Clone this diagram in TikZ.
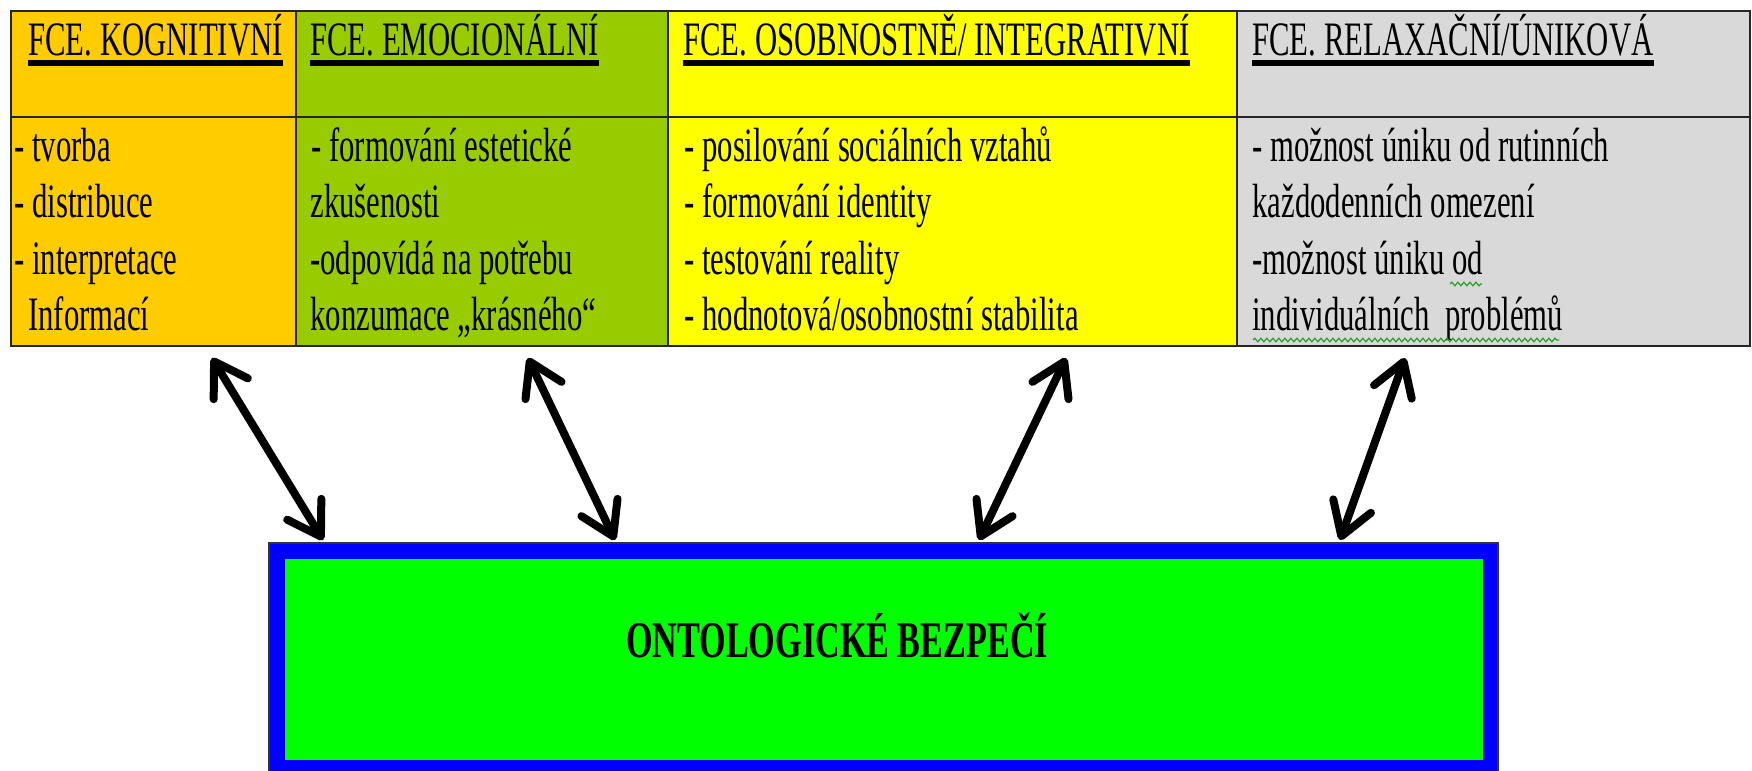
\documentclass[tikz,border=0pt]{standalone}
\usepackage{fontspec}
\setmainfont{Liberation Serif}[FakeStretch=0.64]
\newfontfamily\titlefont{Liberation Serif}[FakeStretch=0.665]
\usetikzlibrary{arrows.meta,decorations.pathmorphing}
\definecolor{cOrange}{HTML}{FFCC00}
\definecolor{cLime}{HTML}{99CC00}
\definecolor{cYellow}{HTML}{FFFF00}
\definecolor{cGray}{HTML}{D9D9D9}
\definecolor{cGreen}{HTML}{00FF00}
\definecolor{cBlue}{HTML}{0000FF}
\definecolor{cSquig}{HTML}{2E9E2E}
\tikzset{
  txt/.style={anchor=base west, inner sep=0pt, font=\fontsize{24pt}{29pt}\selectfont},
  head/.style={txt},
  uline/.style={line width=3pt, black},
  grid/.style={line width=1.2pt, black!85},
  dblarrow/.style={line width=4pt, line cap=round,
    {Straight Barb[length=16pt,width=20pt,round]}-{Straight Barb[length=16pt,width=20pt,round]}},
  squig/.style={cSquig, line width=0.6pt, decorate, decoration={snake, amplitude=0.9pt, segment length=3pt}},
}
\begin{document}
\begin{tikzpicture}[x=0.5pt,y=-0.5pt]
\useasboundingbox (0,0) rectangle (1752,771);
% table fills
\fill[cOrange] (11,11) rectangle (296,346);
\fill[cLime] (296,11) rectangle (668,346);
\fill[cYellow] (668,11) rectangle (1237,346);
\fill[cGray] (1237,11) rectangle (1750,346);
% grid
\draw[grid] (11,11) rectangle (1750,346);
\draw[grid] (11,117) -- (1750,117);
\draw[grid] (296,11) -- (296,346);
\draw[grid] (668,11) -- (668,346);
\draw[grid] (1237,11) -- (1237,346);
% headers
\node[head] (h1) at (28,55) {FCE. KOGNITIVNÍ};
\node[head] (h2) at (310,55) {FCE. EMOCIONÁLNÍ};
\node[head] (h3) at (683,55) {FCE. OSOBNOSTNĚ/ INTEGRATIVNÍ};
\node[head] (h4) at (1252,55) {FCE. RELAXAČNÍ/ÚNIKOVÁ};
\foreach \h in {h1,h2,h3,h4} {
  \draw[uline] (\h.base west) ++(0,8) -- ([yshift=-4pt]\h.base east);
}
% column 1
\node[txt] (t11) at (14,161) {- tvorba};
\node[txt] (t12) at (14,217) {- distribuce};
\node[txt] (t13) at (14,274) {- interpretace};
\node[txt] (t14) at (28,330) {Informací};
% column 2
\node[txt] (t21) at (311,161) {- formování estetické};
\node[txt] (t22) at (310,217) {zkušenosti};
\node[txt] (t23) at (310,274) {-odpovídá na potřebu};
\node[txt] (t24) at (310,330) {konzumace „krásného“};
% column 3
\node[txt] (t31) at (684,161) {- posilování sociálních vztahů};
\node[txt] (t32) at (684,217) {- formování identity};
\node[txt] (t33) at (684,274) {- testování reality};
\node[txt] (t34) at (684,330) {- hodnotová/osobnostní stabilita};
% column 4
\node[txt] (t41) at (1252,161) {- možnost úniku od rutinních};
\node[txt] (t42) at (1252,217) {každodenních omezení};
\node[txt] (t43) at (1252,274) {-možnost úniku od};
\node[txt] (t44) at (1252,330) {individuálních\ \ problémů};
% spell-check squiggles
\draw[squig] (1450,284) -- (1482,284);
\draw[squig] (1253,340) -- (1559,340);
% bottom box
\node[draw=cBlue, line width=7.5pt, fill=cGreen, minimum width=606.5pt, minimum height=108pt, inner sep=0pt] (onto) at (883.5,659) {};
\draw[black!80, line width=0.6pt] (269,543) rectangle (1498,780);
\node[anchor=base, inner sep=0pt, font=\titlefont\fontsize{25.7pt}{30pt}\selectfont\bfseries] (title) at (837,657) {ONTOLOGICKÉ BEZPEČÍ};
% arrows
\coordinate (a1t) at (212,358); \coordinate (a1b) at (323,540);
\coordinate (a2t) at (528,358); \coordinate (a2b) at (615,540);
\coordinate (a3t) at (1066,358); \coordinate (a3b) at (979,540);
\coordinate (a4t) at (1405,358); \coordinate (a4b) at (1340,540);
\draw[dblarrow] (a1t) -- (a1b);
\draw[dblarrow] (a2t) -- (a2b);
\draw[dblarrow] (a3t) -- (a3b);
\draw[dblarrow] (a4t) -- (a4b);
\end{tikzpicture}
\end{document}
